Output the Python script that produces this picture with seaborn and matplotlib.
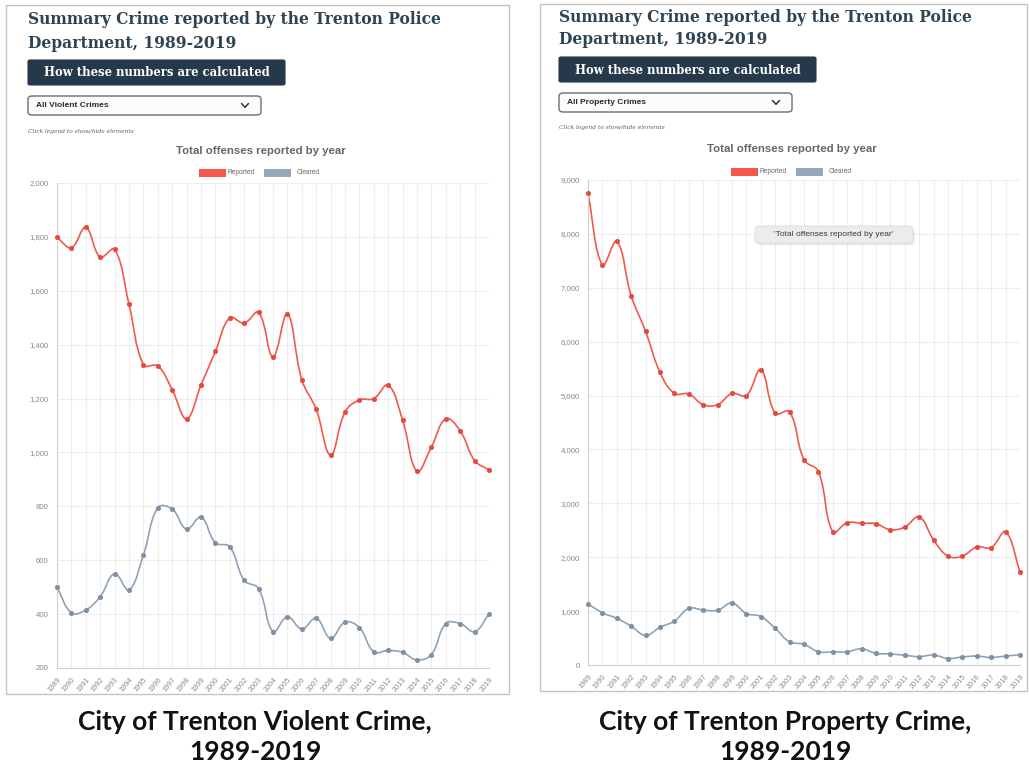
import numpy as np
import matplotlib
matplotlib.use("Agg")
import matplotlib.pyplot as plt
import seaborn as sns
from matplotlib.path import Path
from matplotlib.patches import PathPatch, Rectangle, FancyBboxPatch
from matplotlib.lines import Line2D

# ---------------- data ----------------
years = list(range(1989, 2020))
violent_reported = [1798, 1760, 1835, 1725, 1754, 1550, 1325, 1321, 1233, 1125,
                    1250, 1375, 1500, 1480, 1520, 1355, 1515, 1270, 1160, 990,
                    1150, 1195, 1200, 1250, 1120, 930, 1020, 1125, 1080, 970, 935]
violent_cleared = [500, 405, 415, 465, 550, 490, 620, 795, 790, 715,
                   760, 665, 650, 525, 495, 335, 390, 345, 385, 310,
                   370, 350, 260, 265, 258, 230, 250, 365, 365, 335, 400]
property_reported = [8750, 7420, 7860, 6850, 6190, 5430, 5040, 5030, 4830, 4830,
                     5040, 5000, 5480, 4670, 4700, 3810, 3590, 2470, 2640, 2630,
                     2620, 2510, 2560, 2750, 2320, 2020, 2020, 2190, 2180, 2470, 1730]
property_cleared = [1130, 970, 865, 720, 550, 700, 815, 1050, 1020, 1015,
                    1150, 955, 900, 680, 430, 385, 245, 245, 245, 300,
                    215, 205, 180, 155, 185, 120, 150, 165, 140, 165, 190]
violent_yticks = list(range(200, 2001, 200))
property_yticks = list(range(0, 9001, 1000))
series_names = ["Reported", "Cleared"]
page_title = ["Summary Crime reported by the Trenton Police", "Department, 1989-2019"]
button_text = "How these numbers are calculated"
dropdown_labels = ["All Violent Crimes", "All Property Crimes"]
hint_text = "Click legend to show/hide elements"
chart_title = "Total offenses reported by year"
tooltip_text = "'Total offenses reported by year'"
captions = ["City of Trenton Violent Crime,\n1989-2019",
            "City of Trenton Property Crime,\n1989-2019"]

# ---------------- style ----------------
W, H = 1029, 770
sns.set_style("white")
plt.rcParams['font.family'] = ['Liberation Sans', 'DejaVu Sans']

RED_LINE = '#f3584d'
RED_PT = '#e5483e'
BLUE_LINE = '#8fa2b6'
BLUE_PT = '#7f90a3'
GRID = '#ededed'
TICK = '#8a8a8a'
TITLE_C = '#2f4452'
BTN_C = '#25394a'

fig = plt.figure(figsize=(W / 100, H / 100), dpi=100)
fig.patch.set_facecolor('white')


def fx(x):
    return x / W


def fy(y):
    return 1 - y / H


def chart_spline(ax, xs, ys, color, lw, tension=0.4):
    pts = ax.transData.transform(np.column_stack([xs, ys]).astype(float))
    n = len(pts)
    cps = []
    for i in range(n):
        p = pts[i - 1] if i > 0 else pts[i]
        c = pts[i]
        nx = pts[i + 1] if i < n - 1 else pts[i]
        d01 = np.hypot(*(c - p))
        d12 = np.hypot(*(nx - c))
        s = d01 + d12
        s01 = d01 / s if s else 0
        s12 = d12 / s if s else 0
        cps.append((c - tension * s01 * (nx - p), c + tension * s12 * (nx - p)))
    verts = [pts[0]]
    codes = [Path.MOVETO]
    for i in range(1, n):
        verts += [cps[i - 1][1], cps[i][0], pts[i]]
        codes += [Path.CURVE4] * 3
    verts = ax.transData.inverted().transform(np.array(verts))
    ax.add_patch(PathPatch(Path(verts, codes), fill=False, edgecolor=color,
                           lw=lw, capstyle='round', joinstyle='round', zorder=2))


def draw_panel(ox, frame, axbox, reported, cleared, yticks, ylim, dropdown,
               legend_x, title_cx, caption, caption_cx, tooltip=None, dy=0):
    # screenshot frame
    fx0, fy0, fx1, fy1 = frame
    fig.add_artist(Rectangle((fx(fx0), fy(fy1)), fx(fx1 - fx0), (fy1 - fy0) / H,
                             transform=fig.transFigure, facecolor='none',
                             edgecolor='#c4c4c4', lw=1.0, zorder=-5))
    # page title
    fig.text(fx(ox), fy(20 + dy), page_title[0], family='DejaVu Serif', weight='bold',
             fontsize=11.2, color=TITLE_C, va='center', ha='left')
    fig.text(fx(ox), fy(43 + dy), page_title[1], family='DejaVu Serif', weight='bold',
             fontsize=11.2, color=TITLE_C, va='center', ha='left')
    # button
    bx0, by0, bx1, by1 = ox, 60 + dy, ox + 257, 85 + dy
    fig.add_artist(FancyBboxPatch((fx(bx0), fy(by1)), fx(bx1 - bx0), (by1 - by0) / H,
                                  boxstyle='round,pad=0,rounding_size=0.002',
                                  transform=fig.transFigure, facecolor=BTN_C,
                                  edgecolor=BTN_C, lw=0.8))
    fig.text(fx((bx0 + bx1) / 2), fy((by0 + by1) / 2 + 0.5), button_text,
             family='DejaVu Serif', weight='bold', fontsize=8.4, color='white',
             ha='center', va='center')
    # dropdown
    dx0, dy0, dx1, dy1 = ox, 96 + dy, ox + 233, 115 + dy
    fig.add_artist(FancyBboxPatch((fx(dx0), fy(dy1)), fx(dx1 - dx0), (dy1 - dy0) / H,
                                  boxstyle='round,pad=0,rounding_size=0.004',
                                  transform=fig.transFigure, facecolor='#fbfbfb',
                                  edgecolor='#6f6f6f', lw=1.0))
    fig.text(fx(dx0 + 8), fy((dy0 + dy1) / 2), dropdown, weight='bold', fontsize=6,
             color='#2a2a2a', ha='left', va='center')
    cx, cy = dx1 - 16, (dy0 + dy1) / 2
    fig.add_artist(Line2D([fx(cx - 3.5), fx(cx), fx(cx + 3.5)],
                          [fy(cy - 2), fy(cy + 1.8), fy(cy - 2)],
                          transform=fig.transFigure, color='#333', lw=1.1))
    # hint
    fig.text(fx(ox), fy(131 + dy), hint_text, family='DejaVu Serif', style='italic',
             fontsize=4.2, color='#4d6470', ha='left', va='center')
    # chart title
    fig.text(fx(title_cx), fy(151 + dy * 0.8), chart_title, weight='bold', fontsize=8.2,
             color='#666666', ha='center', va='center')
    # legend
    ly = 173 + dy * 0.5
    lx = legend_x
    for name, col, off, toff in [(series_names[0], '#f5574c', 0, 29),
                                 (series_names[1], '#94a7bb', 65, 98)]:
        fig.add_artist(Rectangle((fx(lx + off), fy(ly + 4)), fx(27), 8 / H,
                                 transform=fig.transFigure, facecolor=col,
                                 edgecolor='none'))
        fig.text(fx(lx + toff), fy(ly), name, fontsize=4.8, color='#666666',
                 ha='left', va='center')

    # axes
    ax0, ay0, ax1, ay1 = axbox
    ax = fig.add_axes([fx(ax0), fy(ay1), fx(ax1 - ax0), (ay1 - ay0) / H])
    ax.set_facecolor('none')
    ax.set_xlim(years[0], years[-1])
    ax.set_ylim(*ylim)
    ax.set_xticks(years)
    ax.set_xticklabels([str(y) for y in years], rotation=50, ha='right',
                       rotation_mode='anchor', fontsize=5.3, color=TICK)
    ax.set_yticks(yticks)
    ax.set_yticklabels([f"{v:,}" for v in yticks], fontsize=5.6, color=TICK)
    ax.grid(True, color=GRID, lw=0.8)
    ax.set_axisbelow(True)
    ax.tick_params(length=4, color=GRID, pad=2, width=0.8)
    for s in ['top', 'right']:
        ax.spines[s].set_visible(False)
    for s in ['left', 'bottom']:
        ax.spines[s].set_color('#cfcfcf')
        ax.spines[s].set_linewidth(0.8)

    chart_spline(ax, years, reported, RED_LINE, 1.2)
    chart_spline(ax, years, cleared, BLUE_LINE, 1.2)
    sns.scatterplot(x=years, y=reported, color=RED_PT, s=10, edgecolor=RED_PT,
                    linewidth=0.5, ax=ax, zorder=3, clip_on=False)
    sns.scatterplot(x=years, y=cleared, color=BLUE_PT, s=10, edgecolor=BLUE_PT,
                    linewidth=0.5, ax=ax, zorder=3, clip_on=False)
    ax.set_xlabel('')
    ax.set_ylabel('')

    if tooltip is not None:
        tx0, ty0, tx1, ty1 = tooltip
        fig.add_artist(FancyBboxPatch((fx(tx0 + 1.5), fy(ty1 + 2)), fx(tx1 - tx0), (ty1 - ty0) / H,
                                      boxstyle='round,pad=0,rounding_size=0.004',
                                      transform=fig.transFigure, facecolor='#d9d9d9',
                                      edgecolor='none', alpha=0.6, zorder=5))
        fig.add_artist(FancyBboxPatch((fx(tx0), fy(ty1)), fx(tx1 - tx0), (ty1 - ty0) / H,
                                      boxstyle='round,pad=0,rounding_size=0.004',
                                      transform=fig.transFigure, facecolor='#ececec',
                                      edgecolor='#dddddd', lw=0.6, zorder=6))
        fig.text(fx((tx0 + tx1) / 2), fy((ty0 + ty1) / 2), tooltip_text, fontsize=6,
                 color='#3a3a3a', ha='center', va='center', zorder=7)

    # caption
    fig.text(fx(caption_cx), fy(737), caption, family=['Lato', 'DejaVu Sans'],
             weight='bold', fontsize=19, color='#111111', ha='center', va='center',
             linespacing=1.33)
    return ax


draw_panel(28, (6, 5, 509, 694), (57, 183, 489, 668), violent_reported, violent_cleared,
           violent_yticks, (200, 2000), dropdown_labels[0], 199, 261, captions[0], 255)
draw_panel(559, (540, 4, 1027, 691), (588, 180, 1020, 665), property_reported,
           property_cleared, property_yticks, (0, 9000), dropdown_labels[1], 731, 792,
           captions[1], 785, tooltip=(755, 226, 913, 243), dy=-3)

fig.savefig('out.png', dpi=100, facecolor='white')
